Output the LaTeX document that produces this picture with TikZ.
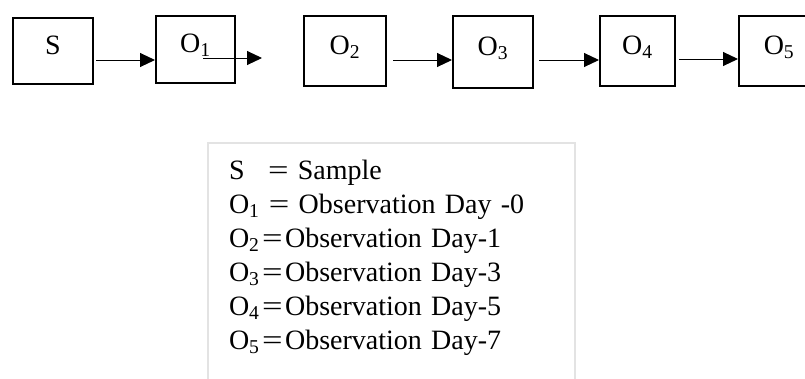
\documentclass[tikz,border=0pt]{standalone}
\usepackage{fontspec}
\usepackage{graphicx}
\setmainfont{Liberation Serif}
\usetikzlibrary{arrows.meta}

% a slightly wider equals sign for the key
\newcommand{\wideeq}{\scalebox{1.3}[1]{=}}

\tikzset{
  stage/.style={draw=black, line width=2.4pt, rectangle, inner sep=0pt,
    font=\fontsize{28}{32}\selectfont, text height=20pt, text depth=14pt},
  flow/.style={draw=black, line width=1pt,
    -{Triangle[length=15pt, width=14pt]}},
  keybox/.style={draw=black!11, line width=2pt, rectangle, anchor=north west,
    inner xsep=21pt, inner ysep=17pt, align=left, text width=325pt,
    font=\fontsize{28}{34}\selectfont}
}

\begin{document}
\begin{tikzpicture}[x=1pt, y=-1pt]
  \clip (0,0) rectangle (805,378);
  \fill[white] (0,0) rectangle (805,378);

  % process boxes
  \node[stage, minimum width=79.6pt, minimum height=65.6pt] (S)  at (53,51)    {S};
  \node[stage, minimum width=78.6pt, minimum height=66.6pt] (O1) at (195.5,49.5) {O\textsubscript{1}};
  \node[stage, minimum width=81.6pt, minimum height=69.6pt] (O2) at (345,51)   {O\textsubscript{2}};
  \node[stage, minimum width=79.6pt, minimum height=71.6pt] (O3) at (493,52)   {O\textsubscript{3}};
  \node[stage, minimum width=74.6pt, minimum height=69.6pt] (O4) at (637.5,51) {O\textsubscript{4}};
  \node[stage, minimum width=79.6pt, minimum height=69.6pt] (O5) at (779,51)   {O\textsubscript{5}};

  % connectors
  \coordinate (s1) at ([shift={(2,9)}]S.east);
  \draw[flow] (s1) -- (s1 -| O1.west);

  \coordinate (o1a) at ([shift={(7.5,8.5)}]O1.center);
  \coordinate (o1b) at (262,58);
  \draw[flow] (o1a) -- (o1b);

  \coordinate (o2) at ([shift={(6,9)}]O2.east);
  \draw[flow] (o2) -- (o2 -| O3.west);

  \coordinate (o3) at ([shift={(5,8)}]O3.east);
  \draw[flow] (o3) -- (o3 -| O4.west);

  \coordinate (o4) at ([shift={(3,8)}]O4.east);
  \draw[flow] (o4) -- (o4 -| O5.west);

  % key
  \node[keybox] (key) at (207,142) {%
    \makebox[39pt][l]{S}\wideeq{} Sample\\
    O\textsubscript{1} \wideeq{} Observation Day -0\\
    O\textsubscript{2}\hspace{2.5pt}\wideeq\hspace{2.5pt}Observation Day-1\\
    O\textsubscript{3}\hspace{2.5pt}\wideeq\hspace{2.5pt}Observation Day-3\\
    O\textsubscript{4}\hspace{2.5pt}\wideeq\hspace{2.5pt}Observation Day-5\\
    O\textsubscript{5}\hspace{2.5pt}\wideeq\hspace{2.5pt}Observation Day-7\rule[-60pt]{0pt}{1pt}};
\end{tikzpicture}
\end{document}
